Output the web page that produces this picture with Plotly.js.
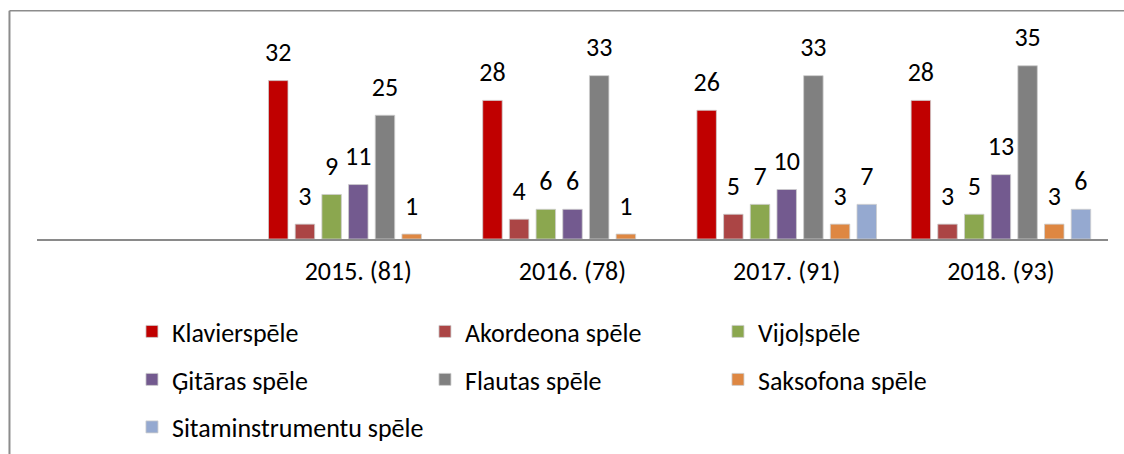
<!DOCTYPE html>
<html>
<head>
<meta charset="utf-8">
<script src="https://cdn.plot.ly/plotly-3.0.1.min.js"></script>
<style>
html,body{margin:0;padding:0;background:#fff;}
#chart{width:1124px;height:454px;}
</style>
</head>
<body>
<div id="chart"></div>
<script>
// ---- data ----
var years = ['2015. (81)', '2016. (78)', '2017. (91)', '2018. (93)'];
var seriesNames = ['Klavierspēle', 'Akordeona spēle', 'Vijoļspēle', 'Ģitāras spēle', 'Flautas spēle', 'Saksofona spēle', 'Sitaminstrumentu spēle'];
var klavierspele = [32, 28, 26, 28];
var akordeonaSpele = [3, 4, 5, 3];
var vijolspele = [9, 6, 7, 5];
var gitarasSpele = [11, 6, 10, 13];
var flautasSpele = [25, 33, 33, 35];
var saksofonaSpele = [1, 1, 3, 3];
var sitaminstrumentuSpele = [null, null, 7, 6];

var seriesValues = [klavierspele, akordeonaSpele, vijolspele, gitarasSpele, flautasSpele, saksofonaSpele, sitaminstrumentuSpele];
var colors = ['#C00000', '#AB4545', '#8BA74F', '#735A8F', '#808080', '#DE8742', '#95A9D0'];
var legendIds = ['legend', 'legend', 'legend', 'legend2', 'legend2', 'legend2', 'legend3'];

var FONT = 'Calibri, Carlito, "Open Sans", sans-serif';
var FS = 26;

var traces = [];
seriesValues.forEach(function (vals, i) {
  traces.push({
    type: 'bar',
    name: seriesNames[i],
    x: years,
    y: vals,
    marker: {color: colors[i], line: {color: 'rgba(205,205,205,0.8)', width: 1}},
    legend: legendIds[i],
    hoverinfo: 'skip'
  });
});
// value labels, grouped like the bars
seriesValues.forEach(function (vals, i) {
  traces.push({
    type: 'scatter',
    mode: 'markers+text',
    x: years,
    y: vals,
    text: vals.map(function (v) { return v === null ? '' : String(v); }),
    textposition: 'top center',
    textfont: {family: FONT, size: FS, color: '#000'},
    marker: {size: 19, color: 'rgba(0,0,0,0)'},
    showlegend: false,
    cliponaxis: false,
    hoverinfo: 'skip'
  });
});

var legendBase = {
  orientation: 'h',
  xref: 'container', yref: 'container',
  x: 0.1174, xanchor: 'left', yanchor: 'middle',
  font: {family: FONT, size: FS, color: '#000'},
  bgcolor: 'rgba(0,0,0,0)', borderwidth: 0,
  entrywidth: 248, entrywidthmode: 'pixels',
  traceorder: 'normal'
};
function lg(y) { var o = JSON.parse(JSON.stringify(legendBase)); o.y = y; return o; }

var layout = {
  width: 1124, height: 454,
  margin: {l: 37, r: 16, t: 41, b: 215},
  paper_bgcolor: '#fff', plot_bgcolor: '#fff',
  barmode: 'group', bargap: 0.128, bargroupgap: 0.27,
  scattermode: 'group', scattergap: 0.128,
  font: {family: FONT, size: FS, color: '#000'},
  xaxis: {
    type: 'category', range: [-1.5, 3.5],
    showline: true, linecolor: '#8a8a8a', linewidth: 2,
    showgrid: false, zeroline: false, ticks: '',
    tickfont: {family: FONT, size: FS, color: '#000'},
    ticklabelstandoff: 8, fixedrange: true
  },
  yaxis: {range: [0, 40], visible: false, fixedrange: true},
  legend: lg(0.2698),
  legend2: lg(0.1641),
  legend3: lg(0.0595),
  shapes: [
    {type: 'line', xref: 'paper', yref: 'paper', x0: -0.0257, x1: 1.02, y0: 1.153, y1: 1.153, line: {color: '#8c8c8c', width: 1.5}},
    {type: 'line', xref: 'paper', yref: 'paper', x0: -0.0257, x1: -0.0257, y0: 1.153, y1: -1.1, line: {color: '#8c8c8c', width: 2}}
  ],
  showlegend: true
};

Plotly.newPlot('chart', traces, layout, {staticPlot: true, displayModeBar: false});
</script>
</body>
</html>
